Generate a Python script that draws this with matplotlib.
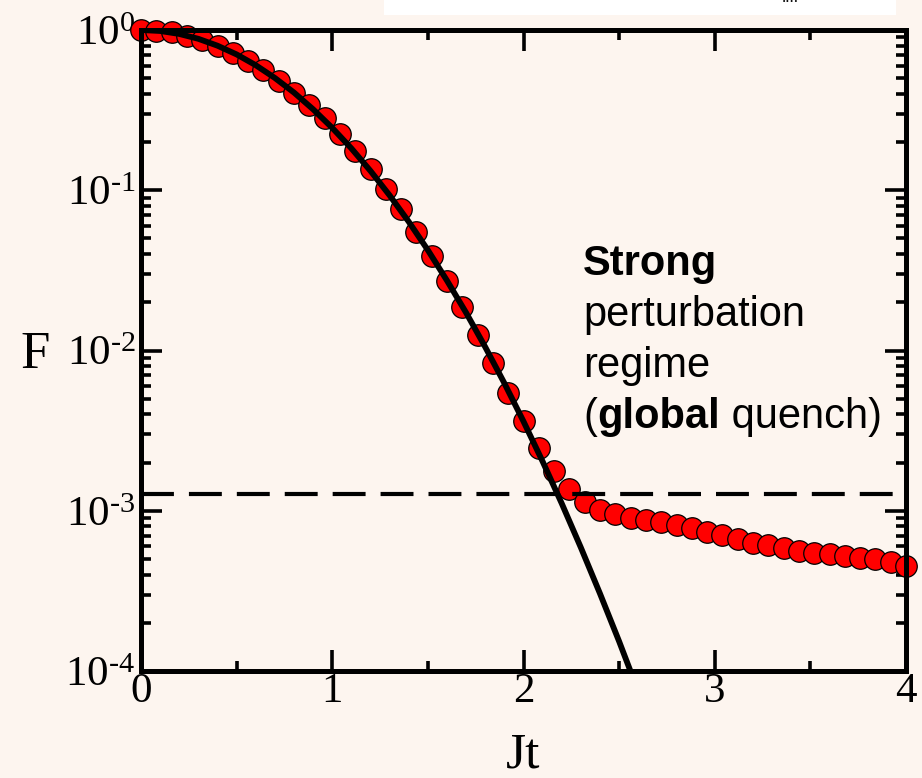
import math
import matplotlib
matplotlib.use("Agg")
import matplotlib.pyplot as plt
from matplotlib.patches import Rectangle
from matplotlib.ticker import FixedLocator, LogLocator, NullFormatter, FuncFormatter, MultipleLocator

plt.rcParams["font.family"] = ["Liberation Serif", "DejaVu Serif"]
plt.rcParams["mathtext.fontset"] = "custom"
plt.rcParams["mathtext.rm"] = "Liberation Serif"
plt.rcParams["mathtext.it"] = "Liberation Serif:italic"
plt.rcParams["mathtext.bf"] = "Liberation Serif:bold"
plt.rcParams["mathtext.default"] = "regular"

BG = "#fdf5ef"

# Simulated fidelity F(Jt) after the quench
jt_points = [0.00, 0.08, 0.16, 0.24, 0.32, 0.40, 0.48, 0.56, 0.64, 0.72,
             0.80, 0.88, 0.96, 1.04, 1.12, 1.20, 1.28, 1.36, 1.44, 1.52,
             1.60, 1.68, 1.76, 1.84, 1.92, 2.00, 2.08, 2.16, 2.24, 2.32,
             2.40, 2.48, 2.56, 2.64, 2.72, 2.80, 2.88, 2.96, 3.04, 3.12,
             3.20, 3.28, 3.36, 3.44, 3.52, 3.60, 3.68, 3.76, 3.84, 3.92,
             4.00]
fidelity_points = [1.0, 0.991, 0.965, 0.922, 0.866, 0.798, 0.723, 0.643, 0.562, 0.483,
                   0.407, 0.340, 0.281, 0.223, 0.177, 0.135, 0.102, 0.0760, 0.0551, 0.0391,
                   0.0270, 0.0186, 0.0125, 0.00832, 0.00546, 0.00361, 0.00247, 0.00178, 1.371e-3, 1.138e-3,
                   1.012e-3, 9.51e-4, 9.06e-4, 8.75e-4, 8.47e-4, 8.15e-4, 7.76e-4, 7.40e-4, 7.06e-4, 6.68e-4,
                   6.32e-4, 6.11e-4, 5.83e-4, 5.64e-4, 5.47e-4, 5.37e-4, 5.24e-4, 5.09e-4, 4.98e-4, 4.81e-4,
                   4.52e-4]

# Short-time (Gaussian) decay curve
jt_curve = [0.0, 0.1, 0.2, 0.3, 0.4, 0.5, 0.6, 0.7, 0.8, 0.9, 1.0, 1.1, 1.2, 1.3,
            1.4, 1.5, 1.6, 1.7, 1.8, 1.9, 2.0, 2.1, 2.2, 2.3, 2.4, 2.5, 2.6]
fidelity_curve = [1.0, 0.986, 0.945, 0.881, 0.798, 0.704, 0.603, 0.502, 0.407, 0.320,
                  0.245, 0.1825, 0.132, 0.0929, 0.0636, 0.0423, 0.0273, 0.0172, 0.01051,
                  0.00625, 0.00361, 0.00203, 0.00111, 5.89e-4, 3.04e-4, 1.53e-4, 7.45e-5]

# Saturation level
fidelity_floor = 1.27e-3

x_ticks = [0, 1, 2, 3, 4]
y_ticks = [1e-4, 1e-3, 1e-2, 1e-1, 1e0]

W, H = 922, 778
fig = plt.figure(figsize=(W / 100, H / 100), dpi=100, facecolor=BG)

# white strip at the top edge
fig.patches.append(Rectangle((384 / W, 1 - 14.5 / H), (896 - 384) / W, 14.5 / H,
                             transform=fig.transFigure, facecolor="white",
                             edgecolor="none", zorder=0))
fig.text(790 / W, 1 - 1.5 / H, "....", fontsize=12, ha="center", va="baseline")

ax = fig.add_axes([141 / W, 1 - 671 / H, (906 - 141) / W, (671 - 30) / H])
ax.set_facecolor(BG)
ax.set_yscale("log")
ax.set_xlim(0, 4)
ax.set_ylim(1e-4, 1)

ax.plot(jt_points, fidelity_points, linestyle="none", marker="o", markersize=15.5,
        markerfacecolor="#ff0000", markeredgecolor="black", markeredgewidth=0.9,
        clip_on=False, zorder=2)
ax.plot(jt_curve, fidelity_curve, color="black", linewidth=4.2, zorder=3,
        solid_capstyle="butt")
ax.axhline(fidelity_floor, color="black", linewidth=3.0, dashes=(7.9, 3.6), zorder=3)

for sp in ax.spines.values():
    sp.set_linewidth(3.6)
    sp.set_zorder(4)

ax.xaxis.set_major_locator(FixedLocator(x_ticks))
ax.xaxis.set_minor_locator(MultipleLocator(0.5))
ax.yaxis.set_major_locator(FixedLocator(y_ticks))
ax.yaxis.set_minor_locator(LogLocator(base=10, subs=[2, 3, 4, 5, 6, 7, 8, 9], numticks=20))
ax.yaxis.set_minor_formatter(NullFormatter())
ax.xaxis.set_major_formatter(FuncFormatter(lambda v, p: "%d" % round(v)))
ax.yaxis.set_major_formatter(FuncFormatter(
    lambda v, p: r"$10^{\text{%d}}$" % round(math.log10(v))))

ax.tick_params(which="both", direction="in", top=True, right=True, width=2.6,
               colors="black", zorder=5)
ax.tick_params(which="major", length=15, labelsize=31)
ax.tick_params(which="minor", length=7.5)
ax.tick_params(axis="x", which="major", pad=1)
ax.tick_params(axis="y", which="major", pad=4)

# axis titles
fig.text(35 / W, 1 - 368 / H, "F", fontsize=38, ha="center", va="baseline")
fig.text(523 / W, 1 - 768 / H, "Jt", fontsize=37, ha="center", va="baseline")

# regime annotation
sans = "Liberation Sans"
fs = 30
x0 = 583 / W
fig.text(x0, 1 - 275 / H, "Strong", fontsize=fs, family=sans, weight="bold", va="baseline")
fig.text(x0, 1 - 326 / H, "perturbation", fontsize=fs, family=sans, va="baseline")
fig.text(x0, 1 - 377 / H, "regime", fontsize=fs, family=sans, va="baseline")
t1 = fig.text(x0, 1 - 428 / H, "(", fontsize=fs, family=sans, va="baseline")
t2 = ax.annotate("global", xy=(1, 0), xycoords=t1, fontsize=fs, family=sans,
                 weight="bold", va="bottom", ha="left", annotation_clip=False)
ax.annotate(" quench)", xy=(1, 0), xycoords=t2, fontsize=fs, family=sans,
            va="bottom", ha="left", annotation_clip=False)

fig.savefig("out.png", dpi=100, facecolor=BG)
